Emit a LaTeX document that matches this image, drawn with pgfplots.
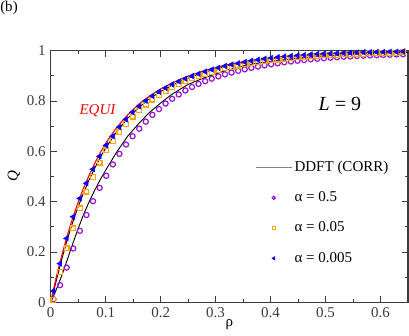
\documentclass[border=0pt]{standalone}
\usepackage{fontspec}
\setmainfont{Liberation Serif}
\usepackage{pgfplots}
\pgfplotsset{compat=1.18}

\definecolor{framegray}{RGB}{60,60,60}
\definecolor{cviolet}{RGB}{150,20,210}
\definecolor{corange}{RGB}{255,165,0}

% markers: rho, alpha=0.5, alpha=0.05, alpha=0.005
\pgfplotstableread{
rho    a5     a05    a005
0.005  0.012  0.008  0.045
0.017  0.068  0.120  0.154
0.029  0.138  0.214  0.254
0.041  0.214  0.294  0.340
0.053  0.284  0.373  0.413
0.065  0.347  0.440  0.473
0.077  0.402  0.499  0.529
0.089  0.455  0.555  0.580
0.101  0.503  0.604  0.624
0.113  0.548  0.641  0.660
0.125  0.590  0.678  0.696
0.137  0.627  0.709  0.727
0.149  0.660  0.738  0.755
0.161  0.690  0.763  0.779
0.173  0.718  0.786  0.801
0.185  0.745  0.806  0.820
0.197  0.768  0.823  0.837
0.209  0.790  0.839  0.852
0.221  0.809  0.854  0.866
0.233  0.826  0.867  0.878
0.245  0.842  0.879  0.889
0.257  0.856  0.890  0.899
0.269  0.868  0.899  0.908
0.281  0.879  0.908  0.917
0.293  0.889  0.916  0.925
0.305  0.898  0.923  0.932
0.317  0.906  0.930  0.939
0.329  0.913  0.936  0.945
0.341  0.920  0.941  0.950
0.353  0.926  0.946  0.955
0.365  0.932  0.951  0.960
0.377  0.937  0.955  0.964
0.389  0.942  0.959  0.968
0.401  0.946  0.962  0.971
0.413  0.950  0.965  0.974
0.425  0.954  0.968  0.977
0.437  0.957  0.971  0.979
0.449  0.960  0.973  0.981
0.461  0.963  0.975  0.983
0.473  0.966  0.977  0.985
0.485  0.968  0.979  0.987
0.497  0.970  0.981  0.988
0.509  0.972  0.982  0.989
0.521  0.974  0.984  0.990
0.533  0.976  0.985  0.991
0.545  0.977  0.986  0.992
0.557  0.979  0.987  0.993
0.569  0.980  0.988  0.994
0.581  0.981  0.989  0.994
0.593  0.982  0.990  0.995
0.605  0.983  0.991  0.995
0.617  0.984  0.991  0.996
0.629  0.985  0.992  0.996
0.641  0.986  0.993  0.997
}\markers

% curves: rho, EQUI, DDFT upper, DDFT lower
\pgfplotstableread{
rho    equi   dup    dlow
0.000  0.000  0.000  0.000
0.005  0.050  0.040  0.024
0.010  0.098  0.085  0.050
0.020  0.185  0.170  0.105
0.030  0.265  0.248  0.168
0.040  0.335  0.318  0.232
0.050  0.398  0.380  0.293
0.060  0.455  0.436  0.350
0.070  0.505  0.487  0.400
0.080  0.552  0.533  0.445
0.090  0.594  0.575  0.487
0.100  0.632  0.613  0.525
0.120  0.695  0.678  0.597
0.140  0.745  0.731  0.660
0.160  0.787  0.774  0.710
0.180  0.820  0.809  0.755
0.200  0.848  0.838  0.792
0.220  0.871  0.862  0.826
0.250  0.899  0.891  0.866
0.280  0.921  0.915  0.893
0.320  0.944  0.939  0.922
0.360  0.960  0.956  0.945
0.400  0.972  0.969  0.958
0.450  0.982  0.980  0.971
0.500  0.988  0.987  0.980
0.550  0.992  0.991  0.986
0.600  0.995  0.994  0.990
0.650  0.997  0.996  0.993
}\curves

\begin{document}
\fontsize{15}{18}\selectfont
\begin{tikzpicture}
\begin{axis}[
  name=ax,
  width=357.3pt, height=251.6pt, scale only axis,
  xmin=0, xmax=0.65, ymin=0, ymax=1,
  clip=false,
  axis line style={framegray, line width=1.1pt},
  tick style={framegray, line width=0.9pt},
  major tick length=6pt, minor tick length=3pt,
  tick align=inside,
  xtick={0,0.1,0.2,0.3,0.4,0.5,0.6},
  ytick={0,0.2,0.4,0.6,0.8,1},
  minor x tick num=1, minor y tick num=1,
  /pgf/number format/assume math mode=true,
  tick label style={font=\fontsize{15}{18}\selectfont, text=framegray},
  xlabel={ρ}, ylabel={\textit{Q}},
  xlabel style={at={(axis description cs:0.5,-0.09)}, anchor=center, font=\fontsize{15}{18}\selectfont},
  ylabel style={at={(axis description cs:-0.103,0.5)}, anchor=center, font=\fontsize{15}{18}\selectfont},
  legend style={draw=none, fill=none, at={(axis cs:0.366,0.578)}, anchor=north west,
    row sep=14pt, font=\fontsize{15}{18}\selectfont},
  legend cell align=left,
  legend image code/.code={\draw[mark repeat=2,mark phase=2] plot coordinates {(0pt,0pt) (18pt,0pt) (36pt,0pt)};},
]
\addlegendimage{gray, line width=1.5pt}
\addlegendentry{DDFT (CORR)}

\addplot[black, line width=0.9pt, forget plot] table[x=rho, y=dlow] {\curves};
\addplot[black, line width=0.9pt, forget plot] table[x=rho, y=dup] {\curves};
\addplot[red, line width=1.1pt, forget plot] table[x=rho, y=equi] {\curves};

\addplot[only marks, mark=o, mark size=2.6pt, cviolet, mark options={line width=1.2pt},
  legend image post style={mark size=1.6pt}] table[x=rho, y=a5] {\markers};
\addlegendentry{α = 0.5}
\addplot[only marks, mark=square, mark size=2.4pt, corange, mark options={line width=1.2pt},
  legend image post style={mark size=1.5pt}] table[x=rho, y=a05] {\markers};
\addlegendentry{α = 0.05}
\addplot[only marks, mark=triangle*, mark size=3.2pt, blue, mark options={rotate=90},
  legend image post style={mark size=2pt}] table[x=rho, y=a005] {\markers};
\addlegendentry{α = 0.005}

\node[text=red, font=\fontsize{15}{18}\selectfont\itshape] at (axis cs:0.085,0.76) {EQUI};
\node[font=\fontsize{20}{24}\selectfont] at (axis cs:0.526,0.788) {\textit{L} = 9};
\end{axis}
\node at ([xshift=-41.7pt, yshift=42.7pt]ax.north west) {(b)};
\pgfresetboundingbox
\path[use as bounding box] ([xshift=-50.7pt,yshift=-32.7pt]ax.south west) rectangle ([xshift=1pt,yshift=50.7pt]ax.north east);
\end{tikzpicture}
\end{document}
